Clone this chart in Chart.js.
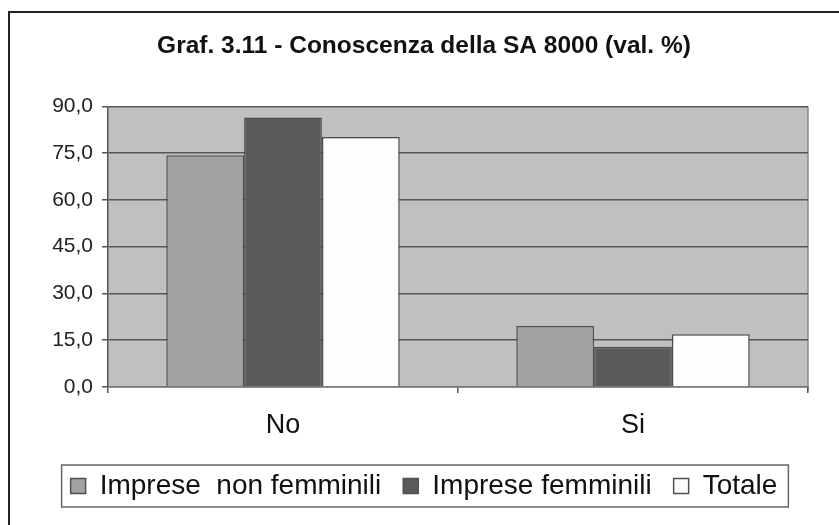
<!DOCTYPE html>
<html>
<head>
<meta charset="utf-8">
<script src="https://cdn.jsdelivr.net/npm/chart.js@4"></script>
<style>
  html, body { margin: 0; padding: 0; background: #fff; }
  #wrap { width: 839px; height: 525px; position: relative; }
</style>
</head>
<body>
<div id="wrap"><canvas id="chart"></canvas></div>
<script>
// ---- dati ----
const categories = ['No', 'Si'];
const seriesNames = ['Imprese  non femminili', 'Imprese femminili', 'Totale'];
const nonFemminili = [74.3, 19.6];
const femminili = [86.4, 12.9];
const totale = [80.2, 16.9];
const yTickLabels = ['0,0', '15,0', '30,0', '45,0', '60,0', '75,0', '90,0'];

const FONT = "'Liberation Sans', Arial, sans-serif";

// sfondo grigio dell'area del grafico + cornice esterna
const plotBackground = {
  id: 'plotBackground',
  beforeDraw(chart) {
    const { ctx, chartArea: a } = chart;
    ctx.save();
    ctx.fillStyle = '#c0c0c0';
    ctx.fillRect(a.left, a.top, a.right - a.left, a.bottom - a.top);
    ctx.strokeStyle = '#8a8a8a';
    ctx.lineWidth = 1.5;
    ctx.beginPath();
    ctx.moveTo(a.right, a.top);
    ctx.lineTo(a.right, a.bottom + 4);
    ctx.stroke();
    // cornice (solo lati sinistro e superiore visibili)
    ctx.strokeStyle = '#222';
    ctx.lineWidth = 2;
    ctx.beginPath();
    ctx.moveTo(9, chart.height);
    ctx.lineTo(9, 12);
    ctx.lineTo(chart.width, 12);
    ctx.stroke();
    ctx.restore();
  }
};

// riquadro attorno alla legenda
const legendBox = {
  id: 'legendBox',
  afterDraw(chart) {
    const lg = chart.legend;
    if (!lg || !lg.legendHitBoxes.length) return;
    const boxes = lg.legendHitBoxes;
    const left = Math.min(...boxes.map(b => b.left)) - 9;
    const right = Math.max(...boxes.map(b => b.left + b.width)) + 11;
    const top = boxes[0].top - 7;
    const bottom = boxes[0].top + boxes[0].height + 7;
    const ctx = chart.ctx;
    ctx.save();
    ctx.strokeStyle = '#666';
    ctx.lineWidth = 1.5;
    ctx.strokeRect(left, top, right - left, bottom - top);
    ctx.restore();
  }
};

const barBorder = '#505050';

new Chart(document.getElementById('chart'), {
  type: 'bar',
  data: {
    labels: categories,
    datasets: [
      { label: seriesNames[0], data: nonFemminili, backgroundColor: '#a2a2a2', borderColor: barBorder, borderWidth: 1.5 },
      { label: seriesNames[1], data: femminili, backgroundColor: '#5a5a5a', borderColor: barBorder, borderWidth: 1.5 },
      { label: seriesNames[2], data: totale, backgroundColor: '#fdfdfd', borderColor: barBorder, borderWidth: 1.5 }
    ]
  },
  options: {
    responsive: true,
    maintainAspectRatio: false,
    animation: false,
    datasets: {
      bar: { categoryPercentage: 0.667, barPercentage: 1.0 }
    },
    layout: { padding: { left: 40, right: 31, top: 0, bottom: 15 } },
    plugins: {
      title: {
        display: true,
        text: 'Graf. 3.11 - Conoscenza della SA 8000 (val. %)',
        color: '#111',
        font: { family: FONT, size: 24.5, weight: 'bold' },
        padding: { top: 32, bottom: 45 }
      },
      legend: {
        position: 'bottom',
        labels: {
          color: '#111',
          font: { family: FONT, size: 28 },
          boxWidth: 15,
          boxHeight: 15,
          padding: 22
        }
      },
      tooltip: { enabled: false }
    },
    scales: {
      x: {
        grid: {
          offset: true,
          drawOnChartArea: false,
          drawTicks: true,
          tickLength: 6,
          color: '#555',
          lineWidth: 1.5
        },
        border: { color: '#777', width: 1.5 },
        ticks: {
          color: '#111',
          font: { family: FONT, size: 27 },
          padding: 16
        },
        afterFit(scale) { scale.height = 63; }
      },
      y: {
        min: 0,
        max: 90,
        ticks: {
          stepSize: 15,
          color: '#222',
          font: { family: FONT, size: 21 },
          padding: 9,
          callback: (v, i) => yTickLabels[i]
        },
        grid: {
          color: '#555',
          lineWidth: 1.5,
          tickLength: 6
        },
        border: { color: '#555', width: 1.5 },
        afterFit(scale) { scale.width = 68; }
      }
    }
  },
  plugins: [plotBackground, legendBox]
});
</script>
</body>
</html>
